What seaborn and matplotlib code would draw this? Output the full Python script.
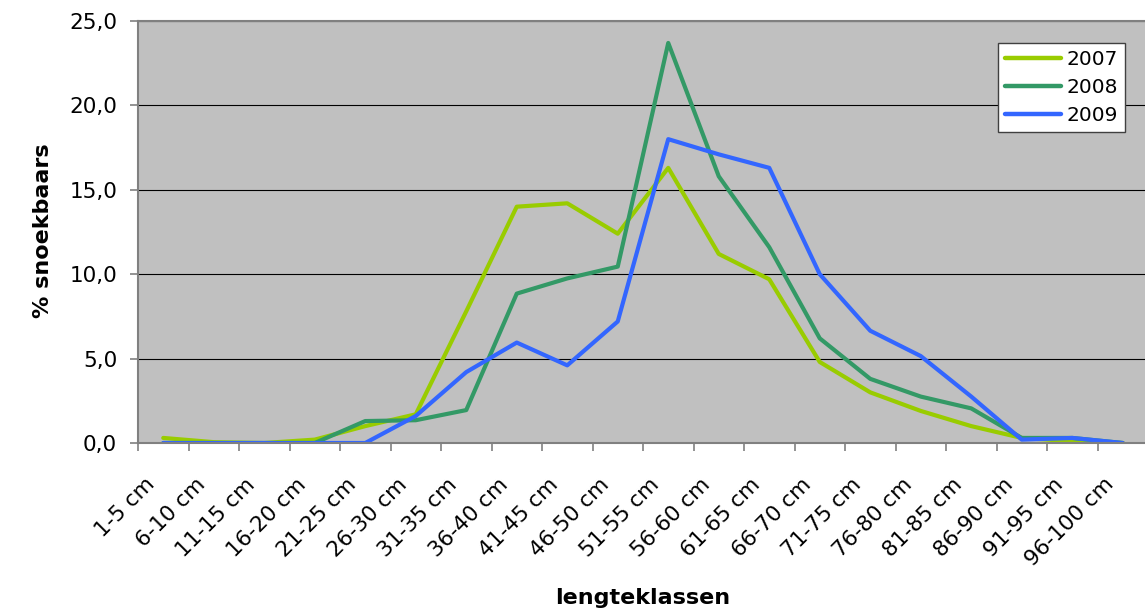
import matplotlib
matplotlib.use("Agg")
import matplotlib.pyplot as plt
import matplotlib.transforms as mtransforms
from matplotlib.ticker import FuncFormatter, FixedLocator
import numpy as np
import pandas as pd
import seaborn as sns

# Length classes (cm)
classes = ["1-5 cm", "6-10 cm", "11-15 cm", "16-20 cm", "21-25 cm", "26-30 cm",
           "31-35 cm", "36-40 cm", "41-45 cm", "46-50 cm", "51-55 cm", "56-60 cm",
           "61-65 cm", "66-70 cm", "71-75 cm", "76-80 cm", "81-85 cm", "86-90 cm",
           "91-95 cm", "96-100 cm"]

# Share of pike-perch per length class (%)
pct_2007 = [0.3, 0.05, 0.0, 0.2, 1.0, 1.7, 7.8, 14.0, 14.2, 12.4, 16.3, 11.2,
            9.7, 4.8, 3.0, 1.9, 1.0, 0.3, 0.1, 0.0]
pct_2008 = [0.0, 0.0, 0.0, 0.0, 1.3, 1.35, 1.95, 8.85, 9.75, 10.45, 23.7, 15.8,
            11.6, 6.2, 3.8, 2.75, 2.05, 0.3, 0.3, 0.0]
pct_2009 = [0.0, 0.0, 0.0, 0.0, 0.0, 1.6, 4.2, 5.95, 4.6, 7.2, 18.0, 17.1,
            16.3, 10.0, 6.65, 5.15, 2.75, 0.2, 0.3, 0.0]
years = ["2007", "2008", "2009"]
colors = ["#99CC00", "#339966", "#3366FF"]

df = pd.concat([
    pd.DataFrame({"klasse": classes, "pct": vals, "jaar": yr})
    for yr, vals in zip(years, [pct_2007, pct_2008, pct_2009])
], ignore_index=True)

sns.set_theme(style="white")
plt.rcParams["font.family"] = ["DejaVu Sans"]
plt.rcParams["text.color"] = "black"
plt.rcParams["xtick.color"] = "black"
plt.rcParams["ytick.color"] = "black"

fig = plt.figure(figsize=(11.45, 6.09), dpi=100)
ax = fig.add_axes([138 / 1145, 1 - 443 / 609, 1010 / 1145, (443 - 21) / 609])
ax.set_facecolor("#C0C0C0")

sns.lineplot(data=df, x="klasse", y="pct", hue="jaar", palette=colors,
             linewidth=3.0, sort=False, ax=ax)

ax.set_xlim(-0.5, len(classes) - 0.5)
ax.set_ylim(0, 25)

# y axis
ax.set_yticks(np.arange(0, 26, 5))
ax.yaxis.set_major_formatter(FuncFormatter(lambda v, p: f"{v:.1f}".replace(".", ",")))
ax.tick_params(axis="y", which="major", length=6, width=1.2, color="#808080",
               pad=9, labelsize=15.5, labelcolor="black", left=True)
ax.yaxis.grid(True, color="black", linewidth=0.8)
ax.xaxis.grid(False)

# x axis: tick marks on class boundaries, labels at class centres
ax.set_xticks(np.arange(len(classes)))
ax.set_xticklabels(classes, rotation=45, ha="right", va="center",
                   rotation_mode="anchor", fontsize=15.5, color="black")
ax.xaxis.set_minor_locator(FixedLocator(np.arange(-0.5, len(classes), 1.0)))
ax.tick_params(axis="x", which="major", length=0, pad=27.5, bottom=True)
ax.tick_params(axis="x", which="minor", length=6, width=1.2, color="#808080",
               bottom=True)
shift = mtransforms.ScaledTranslation(-12 / 100, 0, fig.dpi_scale_trans)
for lbl in ax.get_xticklabels():
    lbl.set_transform(lbl.get_transform() + shift)

for side in ["left", "bottom", "top"]:
    ax.spines[side].set_visible(True)
    ax.spines[side].set_color("#808080")
    ax.spines[side].set_linewidth(1.5)
ax.spines["right"].set_visible(False)

ax.set_xlabel("")
ax.set_ylabel("")
fig.text(643 / 1145, 1 - 598 / 609, "lengteklassen", ha="center", va="center",
         fontsize=16, fontweight="bold", color="black")
fig.text(43 / 1145, 1 - 231 / 609, "% snoekbaars", ha="center", va="center",
         rotation=90, fontsize=16, fontweight="bold", color="black")

leg = ax.legend(title=None, loc="upper right",
                bbox_to_anchor=(1125 / 1145, 1 - 43 / 609),
                bbox_transform=fig.transFigure, fontsize=14.5, frameon=True,
                fancybox=False, framealpha=1, edgecolor="#404040",
                handlelength=2.8, handletextpad=0.25, labelspacing=0.45,
                borderpad=0.35, borderaxespad=0)
leg.get_frame().set_linewidth(1.0)
for h in leg.get_lines():
    h.set_linewidth(3.2)
for t in leg.get_texts():
    t.set_color("black")

fig.savefig("out.png", dpi=100, facecolor="white")
